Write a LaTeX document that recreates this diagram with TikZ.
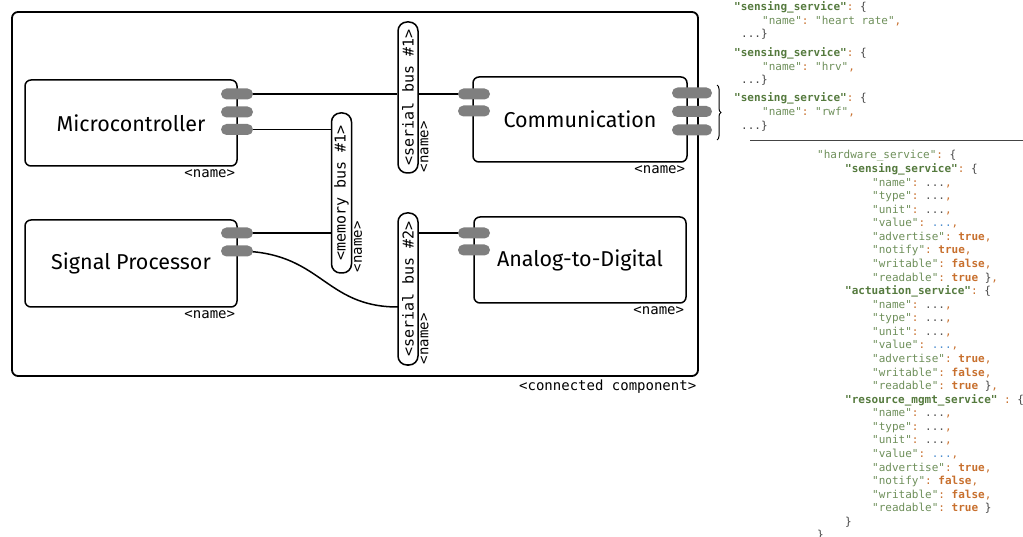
\documentclass[tikz,border=0pt]{standalone}
\usepackage{fontspec}
\setmainfont{Fira Sans}
\setmonofont{DejaVu Sans Mono}
\usetikzlibrary{decorations.pathreplacing,calc}
\definecolor{portgray}{HTML}{7F7F7F}
\definecolor{jgreen}{HTML}{6E8F5A}
\definecolor{jgreenb}{HTML}{557A3E}
\definecolor{jorange}{HTML}{C8702E}
\definecolor{jblue}{HTML}{4F8FCF}
\definecolor{jgray}{HTML}{555555}
\definecolor{jdark}{HTML}{444444}
\pgfdeclarelayer{bg}
\pgfsetlayers{bg,main}
\newcommand\jq[1]{\textcolor{jgreen}{"#1"}}
\newcommand\jqb[1]{\textcolor{jgreenb}{\bfseries"#1"}}
\newcommand\jc{\textcolor{jorange}{:}}
\newcommand\jcm{\textcolor{jorange}{,}}
\newcommand\jd{\textcolor{jgray}{...}}
\newcommand\jdb{\textcolor{jblue}{...}}
\newcommand\jt{\textcolor{jorange}{\bfseries true}}
\newcommand\jf{\textcolor{jorange}{\bfseries false}}
\newcommand\jo{\textcolor{jdark}{\{}}
\newcommand\jcl{\textcolor{jdark}{\}}}
\newcommand\jl[4]{\node[json] (#1) at (#2,{159+13.57*#3}) {#4};}
\begin{document}
\begin{tikzpicture}[x=1pt,y=-1pt,
  comp/.style={draw, line width=1.5pt, rounded corners=6pt, font=\fontsize{21.5}{25}\selectfont, inner sep=0pt},
  port/.style={fill=portgray, rounded corners=5.5pt, minimum width=32pt, minimum height=11pt, inner sep=0pt},
  bus/.style={draw, fill=white, line width=1.5pt, rounded corners=9pt, rotate=90, minimum height=20pt, inner sep=0pt, font=\ttfamily\fontsize{15}{17}\selectfont},
  lbl/.style={font=\ttfamily\fontsize{14}{16}\selectfont, inner sep=1pt},
  conn/.style={line width=1.5pt},
  json/.style={font=\ttfamily\fontsize{11}{13}\selectfont, anchor=base west, inner sep=0pt, text=jdark}]
\useasboundingbox (0,0) rectangle (1023,537);
% outer frame
\node[draw, line width=1.8pt, rounded corners=6pt, minimum width=686pt, minimum height=364pt, inner sep=0pt] (frame) at (355,194) {};
\node[lbl, anchor=north east, inner sep=2.5pt] (framelbl) at (frame.south east) {<connected component>};
% components
\node[comp, minimum width=212pt, minimum height=86pt] (mc) at (131,123) {Microcontroller};
\node[comp, minimum width=212pt, minimum height=87pt] (sp) at (131,263.5) {Signal Processor};
\node[comp, minimum width=214pt, minimum height=85pt] (cm) at (580,119.5) {Communication};
\node[comp, minimum width=212pt, minimum height=86pt] (ad) at (580,260) {Analog-to-Digital};
\node[lbl, anchor=north east, inner sep=2.5pt] (mcn) at (mc.south east) {<name>};
\node[lbl, anchor=north east, inner sep=2.5pt] (spn) at (sp.south east) {<name>};
\node[lbl, anchor=north east, inner sep=2.5pt] (cmn) at (cm.south east) {<name>};
\node[lbl, anchor=north east, inner sep=2.5pt] (adn) at (ad.south east) {<name>};
% buses
\node[bus, minimum width=151pt] (bus1) at (408,97.5) {<serial bus \#1>};
\node[bus, minimum width=160pt] (mem) at (341.5,193) {<memory bus \#1>};
\node[bus, minimum width=152pt] (bus2) at (408,289) {<serial bus \#2>};
\node[lbl, rotate=90, anchor=north west, inner sep=1.5pt] (bus1n) at (bus1.south west) {<name>};
\node[lbl, rotate=90, anchor=north west, inner sep=1.5pt] (memn) at (mem.south west) {<name>};
\node[lbl, rotate=90, anchor=north west, inner sep=1.5pt] (bus2n) at (bus2.south west) {<name>};
% ports
\node[port] (mcp1) at (237,94) {};
\node[port] (mcp2) at (237,112) {};
\node[port] (mcp3) at (237,129.5) {};
\node[port] (spp1) at (237,233) {};
\node[port] (spp2) at (237,251) {};
\node[port] (cml1) at (474,94) {};
\node[port] (cml2) at (474,111) {};
\node[port, minimum width=40pt] (cmr1) at (692,93) {};
\node[port, minimum width=40pt] (cmr2) at (692,111.5) {};
\node[port, minimum width=40pt] (cmr3) at (692,130) {};
\node[port] (adp1) at (474,233) {};
\node[port] (adp2) at (474,250) {};
\coordinate (b2in) at (398,307);
\begin{pgfonlayer}{bg}
\draw[conn] (mcp1.center) -- (mcp1.center -| bus1.north);
\draw[conn] (mcp1.center -| bus1.south) -- (cml1.center);
\draw[conn] (mcp3.center) -- (mcp3.center -| mem.north);
\draw[conn] (spp1.center) -- (spp1.center -| mem.north);
\draw[conn] (adp1.center) -- (adp1.center -| bus2.south);
\draw[conn] (spp2.center) .. controls +(85,0) and +(-75,0) .. (b2in);
\end{pgfonlayer}
% brace
\coordinate (brt) at (717,85);
\coordinate (brb) at (717,140);
\draw[line width=1pt, decorate, decoration={brace, amplitude=4pt}] (brt) -- (brb);
% separator
\coordinate (sepl) at (750,141);
\coordinate (sepr) at (1023,141);
\draw[line width=1pt, jdark] (sepl) -- (sepr);
% top json
\node[json] (t1) at (734,11) {\jqb{sensing\_service}\jc\ \jo};
\node[json] (t2) at (762,25) {\jq{name}\jc\ \jq{heart rate}\jcm};
\node[json] (t3) at (741,38) {...\jcl};
\node[json] (t4) at (734,57) {\jqb{sensing\_service}\jc\ \jo};
\node[json] (t5) at (762,71) {\jq{name}\jc\ \jq{hrv}\jcm};
\node[json] (t6) at (741,84) {...\jcl};
\node[json] (t7) at (734,102) {\jqb{sensing\_service}\jc\ \jo};
\node[json] (t8) at (762,116) {\jq{name}\jc\ \jq{rwf}\jcm};
\node[json] (t9) at (741,130) {...\jcl};
% lower json
\jl{h0}{817}{0}{\jq{hardware\_service}\jc\ \jo}
\jl{h1}{845}{1}{\jqb{sensing\_service}\jc\ \jo}
\jl{h2}{872}{2}{\jq{name}\jc\ \jd\jcm}
\jl{h3}{872}{3}{\jq{type}\jc\ \jd\jcm}
\jl{h4}{872}{4}{\jq{unit}\jc\ \jd\jcm}
\jl{h5}{872}{5}{\jq{value}\jc\ \jdb\jcm}
\jl{h6}{872}{6}{\jq{advertise}\jc\ \jt\jcm}
\jl{h7}{872}{7}{\jq{notify}\jc\ \jt\jcm}
\jl{h8}{872}{8}{\jq{writable}\jc\ \jf\jcm}
\jl{h9}{872}{9}{\jq{readable}\jc\ \jt\ \jcl\jcm}
\jl{h10}{845}{10}{\jqb{actuation\_service}\jc\ \jo}
\jl{h11}{872}{11}{\jq{name}\jc\ \jd\jcm}
\jl{h12}{872}{12}{\jq{type}\jc\ \jd\jcm}
\jl{h13}{872}{13}{\jq{unit}\jc\ \jd\jcm}
\jl{h14}{872}{14}{\jq{value}\jc\ \jdb\jcm}
\jl{h15}{872}{15}{\jq{advertise}\jc\ \jt\jcm}
\jl{h16}{872}{16}{\jq{writable}\jc\ \jf\jcm}
\jl{h17}{872}{17}{\jq{readable}\jc\ \jt\ \jcl\jcm}
\jl{h18}{845}{18}{\jqb{resource\_mgmt\_service}\ \jc\ \jo}
\jl{h19}{872}{19}{\jq{name}\jc\ \jd\jcm}
\jl{h20}{872}{20}{\jq{type}\jc\ \jd\jcm}
\jl{h21}{872}{21}{\jq{unit}\jc\ \jd\jcm}
\jl{h22}{872}{22}{\jq{value}\jc\ \jdb\jcm}
\jl{h23}{872}{23}{\jq{advertise}\jc\ \jt\jcm}
\jl{h24}{872}{24}{\jq{notify}\jc\ \jf\jcm}
\jl{h25}{872}{25}{\jq{writable}\jc\ \jf\jcm}
\jl{h26}{872}{26}{\jq{readable}\jc\ \jt\ \jcl}
\jl{h27}{845}{27}{\jcl}
\jl{h28}{817}{28}{\jcl}
\end{tikzpicture}
\end{document}
